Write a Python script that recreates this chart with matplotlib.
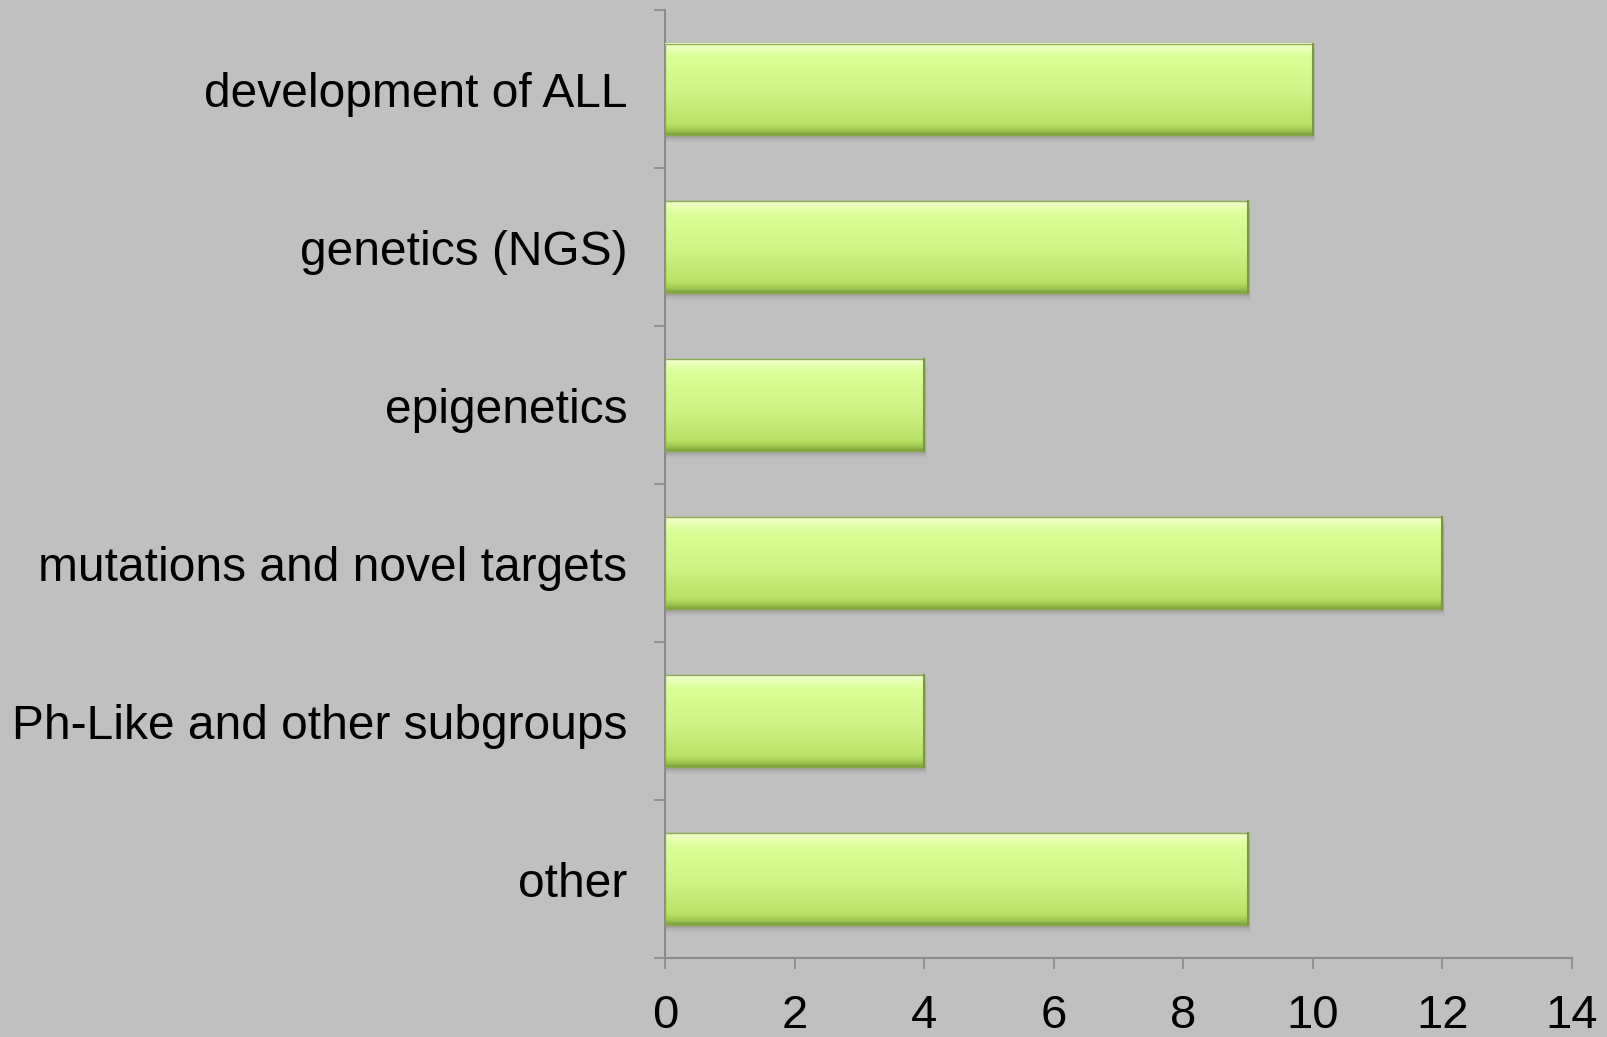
import numpy as np
import matplotlib
matplotlib.use("Agg")
import matplotlib.pyplot as plt
from matplotlib.colors import LinearSegmentedColormap
from matplotlib.patches import Rectangle

categories = [
    "development of ALL",
    "genetics (NGS)",
    "epigenetics",
    "mutations and novel targets",
    "Ph-Like and other subgroups",
    "other",
]
counts = [10, 9, 4, 12, 4, 9]
x_ticks = [0, 2, 4, 6, 8, 10, 12, 14]

plt.rcParams["font.family"] = ["Liberation Sans", "DejaVu Sans"]

bg = "#c0c0c0"
fig = plt.figure(figsize=(16.08, 10.37), dpi=100, facecolor=bg)
ax = fig.add_axes([0.4136, 0.0762, 0.5640, 0.9138], facecolor=bg)

n = len(categories)
ypos = np.arange(n)
bar_h = 0.58

# bevelled green gradient: bright highlight at top, deeper green at bottom
grad_cmap = LinearSegmentedColormap.from_list(
    "bevel",
    [(0.0, "#f6ffd6"), (0.07, "#e6ffb0"), (0.16, "#d9ff96"),
     (0.55, "#cdf385"), (0.88, "#b9e366"), (0.95, "#9fc852"), (1.0, "#7c9e3c")],
)
grad = np.linspace(0, 1, 256).reshape(-1, 1)

bars = ax.barh(ypos, counts, height=bar_h, color="none", edgecolor="none", zorder=3)
for rect in bars:
    x0, y0 = rect.get_x(), rect.get_y()
    w, h = rect.get_width(), rect.get_height()
    # soft shadow beneath the bar
    for k, a in enumerate([0.10, 0.07, 0.04]):
        ax.add_patch(Rectangle((x0 + 0.02, y0 + 0.02 + 0.012 * k), w + 0.01 * k, h,
                               facecolor="#404040", edgecolor="none", alpha=a, zorder=2))
    # y axis is inverted, so the first gradient row sits at y0 (visual top)
    ax.imshow(grad, cmap=grad_cmap, aspect="auto", extent=(x0, x0 + w, y0 + h, y0),
              origin="upper", zorder=3, interpolation="bicubic")
    ax.add_patch(Rectangle((x0, y0), w, h, facecolor="none", edgecolor="#8aac48",
                           linewidth=1.0, zorder=4))
    # darker right edge
    ax.plot([x0 + w, x0 + w], [y0, y0 + h], color="#7a9a3a", lw=1.5, zorder=4)

ax.set_xlim(0, 14)
ax.set_ylim(n - 0.5, -0.5)

ax.set_xticks(x_ticks)
ax.set_xticklabels([str(t) for t in x_ticks], fontsize=34)
ax.set_yticks(ypos)
ax.set_yticklabels(categories, fontsize=34.5)
ax.set_yticks(np.arange(-0.5, n, 1.0), minor=True)

ax.tick_params(axis="y", which="major", length=0, pad=27)
ax.tick_params(axis="y", which="minor", length=8, width=1.2, color="#8a8a8a", direction="out")
ax.tick_params(axis="x", which="major", length=8, width=1.2, color="#8a8a8a",
               direction="out", pad=18)

for side in ["top", "right"]:
    ax.spines[side].set_visible(False)
for side in ["left", "bottom"]:
    ax.spines[side].set_color("#8a8a8a")
    ax.spines[side].set_linewidth(1.5)

fig.savefig("out.png", dpi=100, facecolor=bg)
